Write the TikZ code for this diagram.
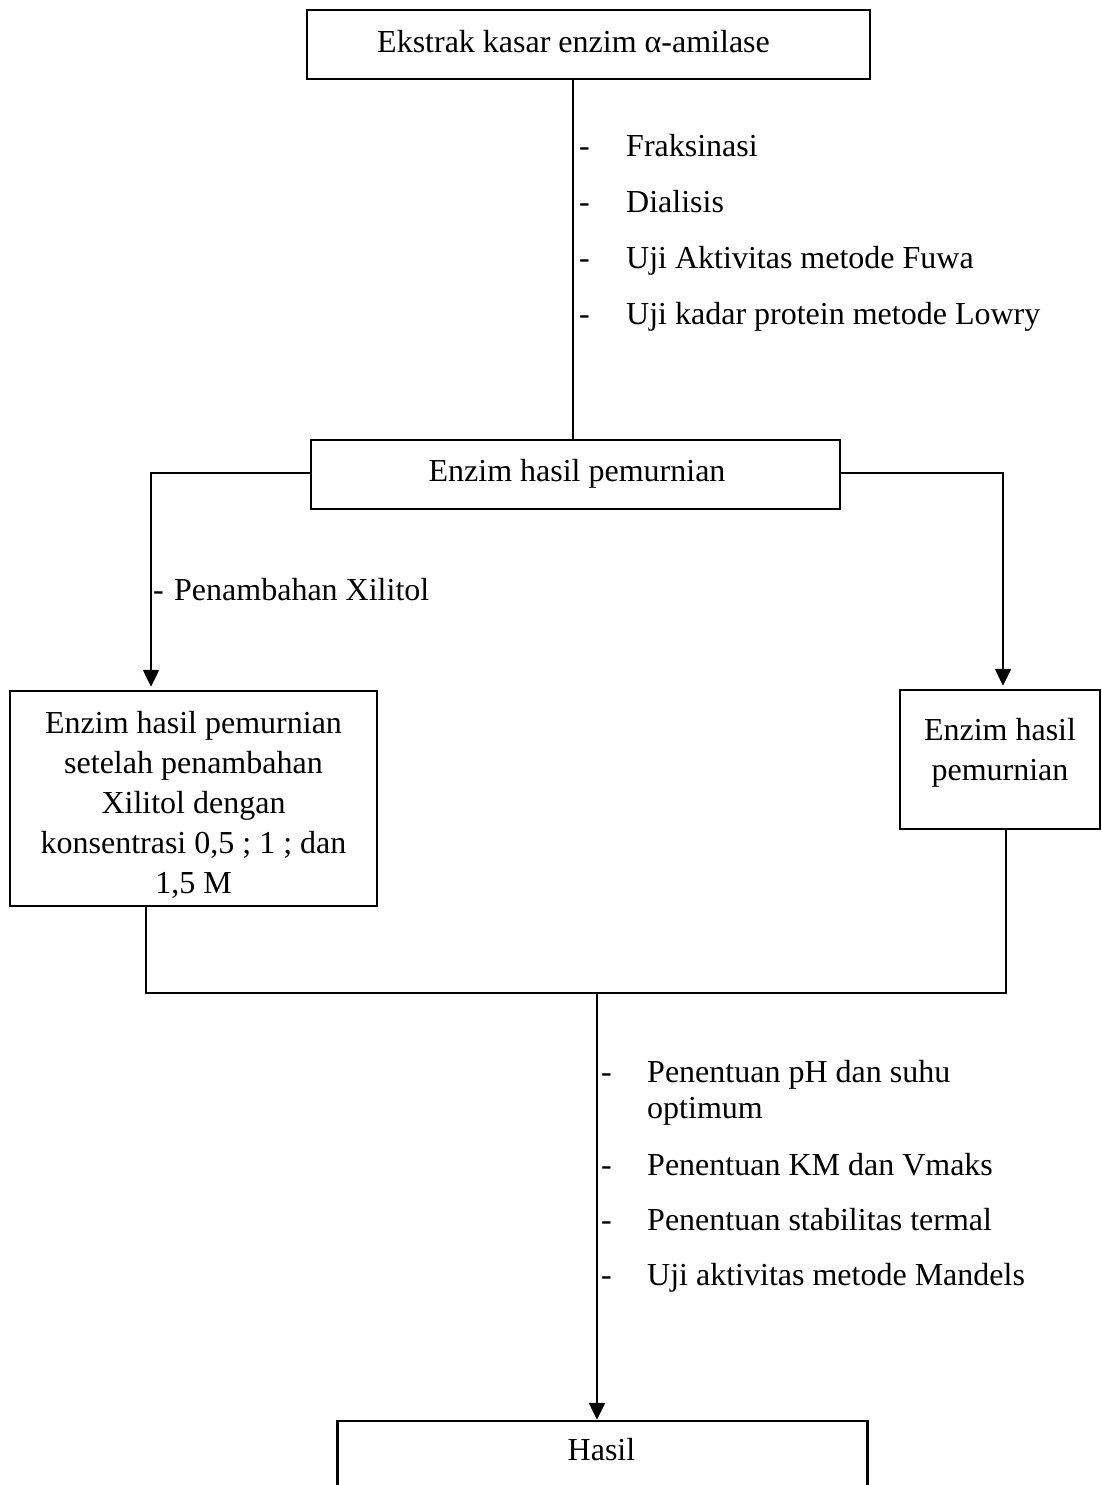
\documentclass[tikz,border=0pt]{standalone}
\usepackage{fontspec}
\setmainfont{Liberation Serif}
\usetikzlibrary{arrows.meta}
\begin{document}
\begin{tikzpicture}[x=1pt,y=-1pt,
  box/.style={draw,line width=2.5pt,inner sep=0pt},
  txt/.style={inner sep=0pt,align=center,anchor=north,font=\fontsize{32}{40}\selectfont},
  lbl/.style={inner sep=0pt,anchor=base west,font=\fontsize{32}{36}\selectfont},
  conn/.style={line width=2.5pt},
  arr/.style={line width=2.5pt,-{Triangle[width=16pt,length=17pt]}}]
\useasboundingbox (0,0) rectangle (1101,1485);
\clip (0,0) rectangle (1101,1485);
\fill[white] (0,0) rectangle (1101,1485);
% boxes
\node[box,minimum width=563pt,minimum height=69pt] (b1) at (588.5,44.5) {};
\node[inner sep=0pt,anchor=base,font=\fontsize{32}{40}\selectfont] (t1) at (573.5,53) {Ekstrak kasar enzim α-amilase};
\node[box,minimum width=529pt,minimum height=69pt] (b2) at (575.5,474.5) {};
\node[inner sep=0pt,anchor=base,font=\fontsize{32}{40}\selectfont] (t2) at (577,481) {Enzim hasil pemurnian};
\node[box,minimum width=367pt,minimum height=215pt] (b3) at (193.5,798.5) {};
\node[txt] (t3) at (193.5,711) {Enzim hasil pemurnian\\setelah penambahan\\Xilitol dengan\\konsentrasi 0,5 ; 1 ; dan\\1,5 M};
\node[box,minimum width=200pt,minimum height=139pt] (b4) at (1000,759.5) {};
\node[txt] (t4) at (1000,718) {Enzim hasil\\pemurnian};
\node[box,minimum width=530pt,minimum height=140pt] (b5) at (602.5,1491) {};
\node[inner sep=0pt,anchor=base,font=\fontsize{32}{40}\selectfont] (t5) at (601.5,1460) {Hasil};
% top list
\node[lbl] (d1) at (579,156) {-};
\node[lbl] (l1) at (626,156) {Fraksinasi};
\node[lbl] (d2) at (579,212) {-};
\node[lbl] (l2) at (626,212) {Dialisis};
\node[lbl] (d3) at (579,268) {-};
\node[lbl] (l3) at (626,268) {Uji Aktivitas metode Fuwa};
\node[lbl] (d4) at (579,324) {-};
\node[lbl] (l4) at (626,324) {Uji kadar protein metode Lowry};
% left label
\node[lbl] (pd) at (153,600) {-};
\node[lbl] (px) at (174,600) {Penambahan Xilitol};
% bottom list
\node[lbl] (e1) at (601,1082) {-};
\node[lbl] (m1) at (647,1082) {Penentuan pH dan suhu};
\node[lbl] (m1b) at (647,1118) {optimum};
\node[lbl] (e2) at (601,1175) {-};
\node[lbl] (m2) at (647,1175) {Penentuan KM dan Vmaks};
\node[lbl] (e3) at (601,1230) {-};
\node[lbl] (m3) at (647,1230) {Penentuan stabilitas termal};
\node[lbl] (e4) at (601,1285) {-};
\node[lbl] (m4) at (647,1285) {Uji aktivitas metode Mandels};
% connectors
\draw[conn] ([xshift=-15.5pt]b1.south) -- ([xshift=-2.5pt]b2.north);
\coordinate (cl) at (151,473);
\coordinate (cr) at (1003,473);
\draw[arr,shorten >=3pt] (b2.west |- cl) -- (cl) -- ([xshift=-42.5pt]b3.north);
\draw[arr,shorten >=3pt] (b2.east |- cr) -- (cr) -- ([xshift=3pt]b4.north);
\coordinate (j) at (597,993);
\draw[conn] ([xshift=-47.5pt]b3.south) |- (j);
\draw[conn] ([xshift=6pt]b4.south) |- (j);
\draw[arr] (j) -- ([xshift=-5.5pt]b5.north);
\end{tikzpicture}
\end{document}
